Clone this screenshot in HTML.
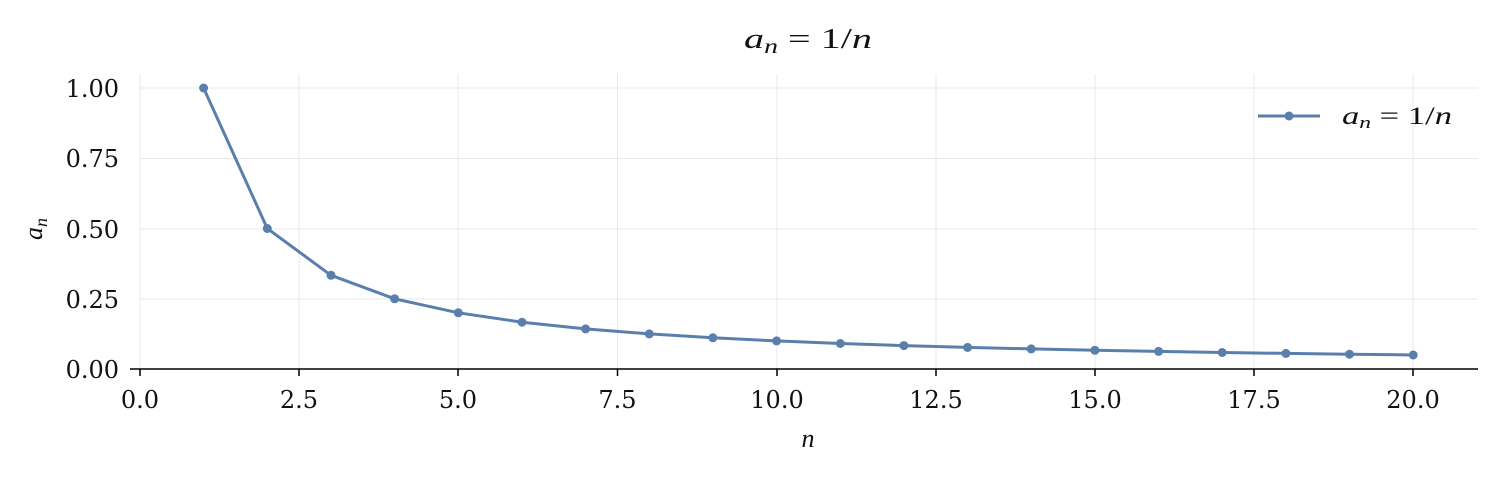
<!DOCTYPE html>
<html><head><meta charset="utf-8"><style>
body{margin:0;background:#fff;}
svg text{font-family:"DejaVu Serif","Liberation Serif",serif;fill:#111;}
svg text.m{font-family:"Liberation Serif","DejaVu Serif",serif;}
</style></head><body>
<svg width="1497" height="476" viewBox="0 0 1497 476" xmlns="http://www.w3.org/2000/svg">
<g stroke="#e8e8e8" stroke-width="1">
<line x1="140" y1="74" x2="140" y2="369"/><line x1="299" y1="74" x2="299" y2="369"/><line x1="458" y1="74" x2="458" y2="369"/><line x1="617.5" y1="74" x2="617.5" y2="369"/><line x1="777" y1="74" x2="777" y2="369"/><line x1="936" y1="74" x2="936" y2="369"/><line x1="1095" y1="74" x2="1095" y2="369"/><line x1="1254" y1="74" x2="1254" y2="369"/><line x1="1413" y1="74" x2="1413" y2="369"/>
<line x1="140" y1="88" x2="1478" y2="88"/><line x1="140" y1="158.5" x2="1478" y2="158.5"/><line x1="140" y1="229" x2="1478" y2="229"/><line x1="140" y1="299" x2="1478" y2="299"/>
</g>
<g stroke="#000" stroke-width="1.5">
<line x1="140" y1="369" x2="1478" y2="369"/>
<line x1="140" y1="369" x2="140" y2="376"/><line x1="299" y1="369" x2="299" y2="376"/><line x1="458" y1="369" x2="458" y2="376"/><line x1="617.5" y1="369" x2="617.5" y2="376"/><line x1="777" y1="369" x2="777" y2="376"/><line x1="936" y1="369" x2="936" y2="376"/><line x1="1095" y1="369" x2="1095" y2="376"/><line x1="1254" y1="369" x2="1254" y2="376"/><line x1="1413" y1="369" x2="1413" y2="376"/>
<line x1="130" y1="369" x2="140" y2="369"/>
</g>
<g font-size="24" text-anchor="middle">
<text x="140" y="408">0.0</text><text x="299" y="408">2.5</text><text x="458" y="408">5.0</text><text x="617.5" y="408">7.5</text><text x="777" y="408">10.0</text><text x="936" y="408">12.5</text><text x="1095" y="408">15.0</text><text x="1254" y="408">17.5</text><text x="1413" y="408">20.0</text>
</g>
<g font-size="24" text-anchor="end">
<text x="119" y="97">1.00</text><text x="119" y="167">0.75</text><text x="119" y="238">0.50</text><text x="119" y="308">0.25</text><text x="119" y="378">0.00</text>
</g>
<text class="m" x="808" y="447" font-size="26" font-style="italic" text-anchor="middle">n</text>
<text class="m" x="0" y="0" font-size="26" font-style="italic" transform="translate(42,240) rotate(-90)">a<tspan font-size="18" dy="5">n</tspan></text>
<text class="m" x="744" y="48" font-size="29" textLength="128" lengthAdjust="spacingAndGlyphs"><tspan font-style="italic">a</tspan><tspan font-size="20" font-style="italic" dy="5">n</tspan><tspan dy="-5"> = 1/</tspan><tspan font-style="italic">n</tspan></text>
<polyline fill="none" stroke="#5b7fad" stroke-width="3" points="203.6,88 267.3,228.5 331,275.3 394.6,298.8 458.3,312.8 522,322.2 585.6,328.9 649.3,333.9 712.9,337.8 776.6,340.9 840.3,343.5 903.9,345.6 967.6,347.4 1031.2,348.9 1094.9,350.3 1158.6,351.4 1222.2,352.5 1285.9,353.4 1349.5,354.2 1413.2,355"/>
<g fill="#5b7fad">
<circle cx="203.6" cy="88" r="4.5"/><circle cx="267.3" cy="228.5" r="4.5"/><circle cx="331" cy="275.3" r="4.5"/><circle cx="394.6" cy="298.8" r="4.5"/><circle cx="458.3" cy="312.8" r="4.5"/><circle cx="522" cy="322.2" r="4.5"/><circle cx="585.6" cy="328.9" r="4.5"/><circle cx="649.3" cy="333.9" r="4.5"/><circle cx="712.9" cy="337.8" r="4.5"/><circle cx="776.6" cy="340.9" r="4.5"/><circle cx="840.3" cy="343.5" r="4.5"/><circle cx="903.9" cy="345.6" r="4.5"/><circle cx="967.6" cy="347.4" r="4.5"/><circle cx="1031.2" cy="348.9" r="4.5"/><circle cx="1094.9" cy="350.3" r="4.5"/><circle cx="1158.6" cy="351.4" r="4.5"/><circle cx="1222.2" cy="352.5" r="4.5"/><circle cx="1285.9" cy="353.4" r="4.5"/><circle cx="1349.5" cy="354.2" r="4.5"/><circle cx="1413.2" cy="355" r="4.5"/>
<circle cx="1289" cy="116" r="4.5"/>
</g>
<line x1="1258" y1="116" x2="1320" y2="116" stroke="#5b7fad" stroke-width="3"/>
<text class="m" x="1342" y="124" font-size="25" textLength="110" lengthAdjust="spacingAndGlyphs"><tspan font-style="italic">a</tspan><tspan font-size="17" font-style="italic" dy="4">n</tspan><tspan dy="-4"> = 1/</tspan><tspan font-style="italic">n</tspan></text>
</svg>
</body></html>
